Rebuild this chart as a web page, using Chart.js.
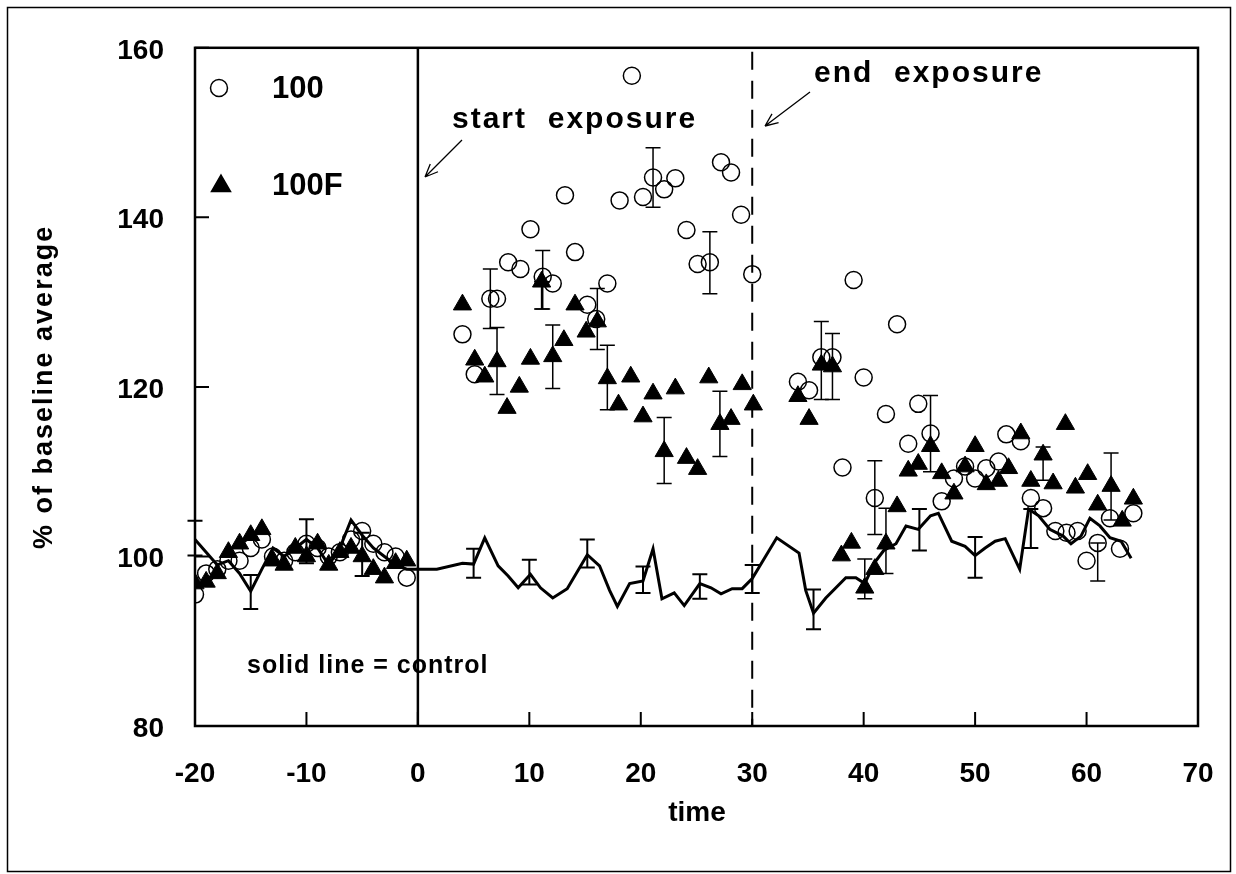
<!DOCTYPE html>
<html>
<head>
<meta charset="utf-8">
<script src="https://cdn.jsdelivr.net/npm/chart.js@4.4.0/dist/chart.umd.min.js"></script>
<style>
  html, body { margin: 0; padding: 0; background: #fff; }
</style>
</head>
<body>
<canvas id="chart" width="1236" height="874"></canvas>
<script>
// ticks
const xTicks = [-20, -10, 0, 10, 20, 30, 40, 50, 60, 70];
const yTicks = [80, 100, 120, 140, 160];

// "100" (open circles)
const circX = [-20, -19, -18, -17, -16, -15, -14, -13, -12, -11, -10, -9, -8, -7, -6, -5, -4, -3, -2, -1,
  4.0, 5.1, 6.5, 7.1, 8.1, 9.2, 10.1, 11.2, 12.1, 13.2, 14.1, 15.2, 16.0, 17.0, 18.1, 19.2, 20.2, 21.1, 22.1, 23.1,
  24.1, 25.1, 26.2, 27.2, 28.1, 29.0, 30.0,
  34.1, 35.1, 36.2, 37.2, 38.1, 39.1, 40.0, 41.0, 42.0, 43.0, 44.0, 44.9, 46.0, 47.0, 48.1, 49.1, 50.0, 51.0,
  52.1, 52.8, 54.1, 55.0, 56.1, 57.2, 58.2, 59.2, 60.0, 61.0, 62.1, 63.0, 64.2];
const circY = [95.5, 98, 98.5, 99.5, 99.5, 101, 102, 100, 99.5, 100.5, 101.5, 101, 100, 100.5, 102, 103, 101.5, 100.5, 100, 97.5,
  126.2, 121.5, 130.4, 130.4, 134.7, 133.9, 138.6, 133.0, 132.2, 142.6, 135.9, 129.7, 128.0, 132.2, 142.0, 156.7, 142.4, 144.7, 143.3, 144.6,
  138.5, 134.5, 134.7, 146.5, 145.3, 140.3, 133.3,
  120.6, 119.6, 123.5, 123.5, 110.5, 132.6, 121.1, 106.9, 116.8, 127.4, 113.3, 118.0, 114.5, 106.5, 109.2, 110.6, 109.2, 110.4,
  111.2, 114.4, 113.6, 106.9, 105.7, 103.0, 102.8, 103.0, 99.5, 101.6, 104.5, 100.9, 105.1];

// "100F" (filled triangles)
const triX = [-20, -19, -18, -17, -16, -15, -14, -13, -12, -11, -10, -9, -8, -7, -6, -5, -4, -3, -2, -1,
  4.0, 5.1, 6.0, 7.1, 8.0, 9.1, 10.1, 11.1, 12.1, 13.1, 14.1, 15.1, 16.1, 17.0, 18.0, 19.1, 20.2, 21.1, 22.1, 23.1,
  24.1, 25.1, 26.1, 27.1, 28.1, 29.1, 30.1,
  34.1, 35.1, 36.2, 37.2, 38.0, 38.9, 40.1, 41.0, 42.0, 43.0, 44.0, 44.9, 46.0, 47.0, 48.1, 49.1, 50.0, 51.0,
  52.1, 53.0, 54.1, 55.0, 56.1, 57.0, 58.1, 59.0, 60.1, 61.0, 62.2, 63.2, 64.2];
const triY = [96.8, 97, 98, 100.5, 101.5, 102.5, 103.2, 99.5, 99, 101, 100, 101.5, 99, 100.5, 101, 100, 98.5, 97.5, 99.2, 99.5,
  129.7, 123.2, 121.2, 123.0, 117.5, 120.0, 123.3, 132.4, 123.6, 125.5, 129.7, 126.5, 127.7, 121.0, 117.9, 121.2, 116.5, 119.2, 112.4, 119.8,
  111.6, 110.3, 121.1, 115.6, 116.2, 120.3, 117.9,
  118.9, 116.2, 122.6, 122.4, 100.1, 101.6, 96.3, 98.5, 101.5, 105.9, 110.1, 110.9, 113.0, 109.8, 107.4, 110.6, 113.0, 108.5,
  108.9, 110.4, 114.5, 108.9, 112.0, 108.6, 115.6, 108.1, 109.7, 106.1, 108.3, 104.2, 106.8];

// control (solid line)
const ctrlX = [-20, -19, -18, -17, -16, -15, -14, -13, -12, -11, -10, -9, -8, -7, -6, -5, -4, -3, -2, -1, 0,
  1.7, 4, 5, 6, 7.2, 8.1, 9, 10.1, 11, 12.1, 13.4, 15.2, 16.3, 17.2, 17.9, 19, 20.2, 21.1, 21.9, 23, 23.9,
  25.3, 26.3, 27.2, 28.2, 29.1, 30, 32.2, 34.2, 34.8, 35.5, 36.6, 38.4, 39.3, 40.1, 41, 41.8, 42.9, 43.8,
  44.9, 46, 46.7, 47.9, 49.1, 50, 50.9, 51.8, 52.7, 54, 54.8, 55.7, 56.7, 57.9, 58.6, 59.5, 60.3, 61.2,
  62.1, 63.1, 64];
const ctrlY = [102, 100.5, 99, 99.5, 98, 95.9, 98.5, 101, 100, 101, 102, 101, 99, 101, 104.3, 102.5, 101, 100, 99, 98.5, 98.5,
  98.5, 99.2, 99.1, 102.2, 98.9, 97.7, 96.3, 97.9, 96.3, 95.1, 96.2, 100.2, 98.9, 96.0, 94.1, 96.8, 97.1, 100.9, 95.0, 95.7, 94.2,
  96.8, 96.3, 95.6, 96.2, 96.2, 97.4, 102.2, 100.4, 96.0, 93.3, 95.1, 97.5, 97.5, 96.8, 99.3, 100.7, 101.5, 103.6,
  103.2, 104.8, 105.1, 101.8, 101.2, 100.1, 101.0, 101.8, 102.1, 98.5, 105.6, 104.8, 103.2, 102.4, 101.5, 102.4, 104.5, 103.6,
  102.2, 101.8, 99.8];

// error bars (low / high ends)
const circErrX = [6.5, 11.2, 21.1, 26.2, 36.2, 37.2, 41.0, 46.0, 61.0];
const circErrLo = [126.9, 129.2, 141.2, 131.0, 118.5, 118.5, 102.6, 110.0, 97.1];
const circErrHi = [133.9, 136.1, 148.2, 138.3, 127.7, 126.3, 111.3, 119.0, 101.6];
const triErrX = [7.1, 11.1, 12.1, 16.1, 17.0, 22.1, 27.1, 40.1, 42.0, 56.1, 62.2];
const triErrLo = [119.1, 129.2, 119.8, 124.4, 117.3, 108.6, 111.8, 95.0, 98.0, 109.0, 104.3];
const triErrHi = [127.0, 132.4, 127.3, 131.6, 124.9, 116.4, 119.5, 99.7, 105.7, 112.9, 112.2];
const ctrlErrX = [-20, -15, -10, -5, 5, 10, 15.2, 20.2, 25.3, 30, 35.5, 45, 50, 55];
const ctrlErrLo = [100.1, 93.8, 99.2, 97.7, 97.5, 96.7, 98.7, 95.7, 95.0, 95.7, 91.4, 100.7, 97.5, 101.0];
const ctrlErrHi = [104.2, 97.8, 104.4, 102.8, 100.9, 99.6, 102.0, 98.8, 97.9, 99.0, 96.1, 105.6, 102.3, 105.6];

const FONT = '"Liberation Sans", Arial, Helvetica, sans-serif';

function toPoints(xs, ys) {
  return xs.map((x, i) => ({ x: x, y: ys[i] }));
}

const errorSets = [
  { x: circErrX, lo: circErrLo, hi: circErrHi, width: 1.5 },
  { x: triErrX, lo: triErrLo, hi: triErrHi, width: 1.5 },
  { x: ctrlErrX, lo: ctrlErrLo, hi: ctrlErrHi, width: 2 }
];

const decorPlugin = {
  id: 'decor',
  beforeDraw(chart) {
    const ctx = chart.ctx;
    ctx.save();
    ctx.fillStyle = '#fff';
    ctx.fillRect(0, 0, chart.width, chart.height);
    ctx.strokeStyle = '#000';
    ctx.lineWidth = 1.5;
    ctx.strokeRect(7.5, 7.5, 1223, 864);
    ctx.restore();
  },
  beforeDatasetsDraw(chart) {
    const { ctx, chartArea: a, scales: { x } } = chart;
    ctx.save();
    ctx.strokeStyle = '#000';
    ctx.lineWidth = 2.5;
    const x0 = x.getPixelForValue(0);
    ctx.beginPath();
    ctx.moveTo(x0, a.top);
    ctx.lineTo(x0, a.bottom);
    ctx.stroke();
    ctx.lineWidth = 2;
    ctx.setLineDash([18, 11]);
    const x30 = x.getPixelForValue(30);
    ctx.beginPath();
    ctx.moveTo(x30, a.top + 4);
    ctx.lineTo(x30, a.bottom);
    ctx.stroke();
    ctx.restore();
  },
  afterDatasetsDraw(chart) {
    const { ctx, chartArea: a, scales: { x, y } } = chart;
    ctx.save();
    ctx.strokeStyle = '#000';

    // error bars
    errorSets.forEach(set => {
      ctx.lineWidth = set.width;
      set.x.forEach((xv, i) => {
        const px = x.getPixelForValue(xv);
        const pLo = y.getPixelForValue(set.lo[i]);
        const pHi = y.getPixelForValue(set.hi[i]);
        ctx.beginPath();
        ctx.moveTo(px, pLo);
        ctx.lineTo(px, pHi);
        ctx.moveTo(px - 7.5, pLo);
        ctx.lineTo(px + 7.5, pLo);
        ctx.moveTo(px - 7.5, pHi);
        ctx.lineTo(px + 7.5, pHi);
        ctx.stroke();
      });
    });

    // plot frame
    ctx.lineWidth = 2.5;
    ctx.strokeRect(a.left, a.top, a.right - a.left, a.bottom - a.top);

    // inward tick marks
    ctx.lineWidth = 2;
    ctx.beginPath();
    xTicks.forEach(t => {
      const px = x.getPixelForValue(t);
      ctx.moveTo(px, a.bottom);
      ctx.lineTo(px, a.bottom - 14);
    });
    yTicks.forEach(t => {
      const py = y.getPixelForValue(t);
      ctx.moveTo(a.left, py);
      ctx.lineTo(a.left + 14, py);
    });
    ctx.stroke();

    // legend
    ctx.lineWidth = 1.5;
    ctx.fillStyle = 'rgba(0,0,0,0)';
    Chart.helpers.drawPoint(ctx, { pointStyle: 'circle', radius: 8.5, borderWidth: 1.5 }, 219, 88);
    ctx.fillStyle = '#000';
    Chart.helpers.drawPoint(ctx, { pointStyle: 'triangle', radius: 11, borderWidth: 1 }, 221, 186);
    ctx.font = 'bold 31px ' + FONT;
    ctx.textBaseline = 'middle';
    ctx.textAlign = 'left';
    ctx.fillText('100', 272, 89);
    ctx.fillText('100F', 272, 186);

    // annotations
    ctx.font = 'bold 30px ' + FONT;
    ctx.letterSpacing = '2px';
    ctx.fillText('start  exposure', 452, 120);
    ctx.fillText('end  exposure', 814, 74);
    ctx.font = 'bold 25px ' + FONT;
    ctx.letterSpacing = '1px';
    ctx.fillText('solid line = control', 247, 666);
    ctx.letterSpacing = '0px';

    // arrows
    function arrow(x1, y1, x2, y2) {
      const ang = Math.atan2(y2 - y1, x2 - x1);
      ctx.lineWidth = 1.3;
      ctx.beginPath();
      ctx.moveTo(x1, y1);
      ctx.lineTo(x2, y2);
      [0.4, -0.4].forEach(d => {
        ctx.moveTo(x2, y2);
        ctx.lineTo(x2 - 14 * Math.cos(ang + d), y2 - 14 * Math.sin(ang + d));
      });
      ctx.stroke();
    }
    arrow(462, 140, 425, 177);
    arrow(810, 92, 765, 126);

    // axis titles
    ctx.font = 'bold 28px ' + FONT;
    ctx.textAlign = 'center';
    ctx.fillText('time', 697, 813);
    ctx.save();
    ctx.translate(45, (a.top + a.bottom) / 2);
    ctx.rotate(-Math.PI / 2);
    ctx.font = 'bold 27px ' + FONT;
    ctx.letterSpacing = '2px';
    ctx.fillText('% of baseline average', 0, 0);
    ctx.restore();

    ctx.restore();
  }
};

const ctx = document.getElementById('chart').getContext('2d');
new Chart(ctx, {
  type: 'scatter',
  data: {
    datasets: [
      {
        label: 'control',
        type: 'line',
        data: toPoints(ctrlX, ctrlY),
        borderColor: '#000',
        borderWidth: 3,
        pointRadius: 0,
        tension: 0,
        fill: false,
        order: 3
      },
      {
        label: '100',
        data: toPoints(circX, circY),
        pointStyle: 'circle',
        pointRadius: 8.5,
        borderColor: '#000',
        borderWidth: 1.5,
        backgroundColor: 'rgba(0,0,0,0)',
        order: 2
      },
      {
        label: '100F',
        data: toPoints(triX, triY),
        pointStyle: 'triangle',
        pointRadius: 10.5,
        borderColor: '#000',
        borderWidth: 1,
        backgroundColor: '#000',
        order: 1
      }
    ]
  },
  options: {
    responsive: false,
    animation: false,
    layout: { padding: { left: 0, right: 38, top: 45, bottom: 0 } },
    plugins: {
      legend: { display: false },
      tooltip: { enabled: false }
    },
    scales: {
      x: {
        type: 'linear',
        min: -20,
        max: 70,
        afterFit: scale => {
          scale.height = 148;
          scale.paddingLeft = 0;
          scale.paddingRight = 0;
        },
        afterBuildTicks: scale => { scale.ticks = xTicks.map(v => ({ value: v })); },
        grid: { display: false, drawTicks: false },
        border: { display: false },
        ticks: {
          color: '#000',
          padding: 31,
          maxRotation: 0,
          font: { family: FONT, size: 28, weight: 'bold' }
        }
      },
      y: {
        min: 80,
        max: 160,
        afterFit: scale => { scale.width = 195; },
        afterBuildTicks: scale => { scale.ticks = yTicks.map(v => ({ value: v })); },
        grid: { display: false, drawTicks: false },
        border: { display: false },
        ticks: {
          color: '#000',
          padding: 31,
          labelOffset: 3,
          font: { family: FONT, size: 28, weight: 'bold' }
        }
      }
    }
  },
  plugins: [decorPlugin]
});
</script>
</body>
</html>
